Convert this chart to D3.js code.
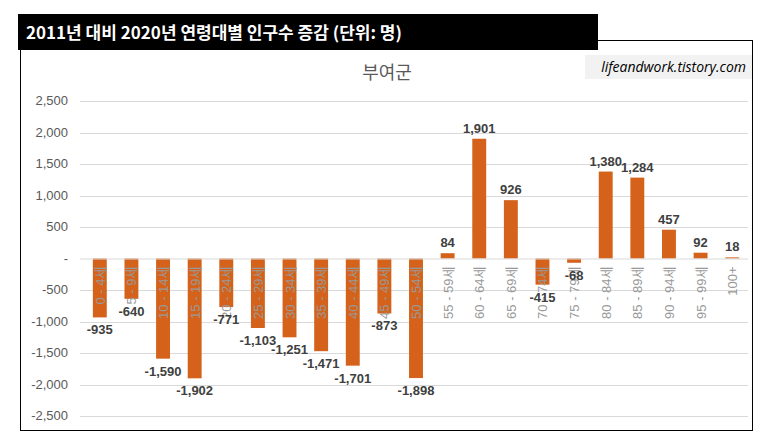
<!DOCTYPE html>
<html><head><meta charset="utf-8">
<script src="https://cdn.jsdelivr.net/npm/d3@7/dist/d3.min.js"></script>
<style>body{margin:0;background:#fff;font-family:"Noto Sans CJK KR","Noto Sans",sans-serif}</style>
</head><body><svg id="c" width="763" height="440"></svg>
<script>
const CATEGORIES = ['0 - 4세','5 - 9세','10 - 14세','15 - 19세','20 - 24세','25 - 29세','30 - 34세','35 - 39세','40 - 44세','45 - 49세','50 - 54세','55 - 59세','60 - 64세','65 - 69세','70 - 74세','75 - 79세','80 - 84세','85 - 89세','90 - 94세','95 - 99세','100+'];
const VALUES = [-935,-640,-1590,-1902,-771,-1103,-1251,-1471,-1701,-873,-1898,84,1901,926,-415,-68,1380,1284,457,92,18];
const TICKS = [2500,2000,1500,1000,500,0,-500,-1000,-1500,-2000,-2500];

const fmt = d3.formatLocale({decimal:'.',thousands:',',grouping:[3],currency:['',''],minus:'-'}).format(',');

const svg = d3.select('#c');
// frame
svg.append('rect').attr('x',20.5).attr('y',40.5).attr('width',732).attr('height',390).attr('fill','#fff').attr('stroke','#000');
svg.append('rect').attr('x',18).attr('y',14).attr('width',580).attr('height',36).attr('fill','#000');
svg.append('text').attr('x',26).attr('y',39).attr('fill','#fff').attr('font-size',17).attr('font-weight','bold')
  .text('2011년 대비 2020년 연령대별 인구수 증감 (단위: 명)');
svg.append('text').attr('x',387).attr('y',79).attr('text-anchor','middle').attr('fill','#595959').attr('font-size',18).text('부여군');
svg.append('rect').attr('x',585).attr('y',55).attr('width',167).attr('height',24).attr('fill','#f2f2f2');
svg.append('text').attr('x',746).attr('y',72).attr('text-anchor','end').attr('font-style','italic').attr('font-size',14)
  .attr('font-family','"Open Sans",sans-serif').attr('fill','#000').text('lifeandwork.tistory.com');

const y = d3.scaleLinear().domain([-2500,2500]).range([416,101]);
const x = d3.scaleBand().domain(CATEGORIES).range([84,748]).paddingInner(0.56).paddingOuter(0.28);

const g = svg.append('g');
g.selectAll('.grid').data(TICKS.filter(t=>t!==0)).join('line')
  .attr('x1',80).attr('x2',748).attr('y1',d=>Math.round(y(d))+.5).attr('y2',d=>Math.round(y(d))+.5)
  .attr('stroke','#d9d9d9');
g.selectAll('.tl').data(TICKS).join('text')
  .attr('x',68).attr('y',d=>y(d)+4).attr('text-anchor','end').attr('font-size',13)
  .attr('font-family','"Liberation Sans",sans-serif').attr('fill','#595959')
  .text(d=>d===0?'-':fmt(d));

g.selectAll('.bar').data(VALUES).join('rect')
  .attr('x',(d,i)=>x(CATEGORIES[i])).attr('width',x.bandwidth())
  .attr('y',d=>y(Math.max(0,d))).attr('height',d=>Math.abs(y(d)-y(0)))
  .attr('fill','#d5621a');
g.append('line').attr('x1',80).attr('x2',748).attr('y1',y(0)+.5).attr('y2',y(0)+.5).attr('stroke','#d9d9d9');

g.selectAll('.cl').data(CATEGORIES).join('text')
  .attr('transform',d=>`translate(${x(d)+x.bandwidth()/2+5},${y(0)+8}) rotate(-90)`)
  .attr('text-anchor','end').attr('font-size',13).attr('fill','#999')
  .attr('font-family','"Liberation Sans","Noto Sans CJK KR",sans-serif').text(d=>d);

g.selectAll('.vl').data(VALUES).join('text')
  .attr('x',(d,i)=>x(CATEGORIES[i])+x.bandwidth()/2)
  .attr('y',d=>d>=0?y(d)-6:y(d)+17)
  .attr('text-anchor','middle').attr('font-size',13).attr('font-weight','bold')
  .attr('font-family','"Liberation Sans",sans-serif').attr('fill','#404040')
  .text(d=>fmt(d));
</script></body></html>
